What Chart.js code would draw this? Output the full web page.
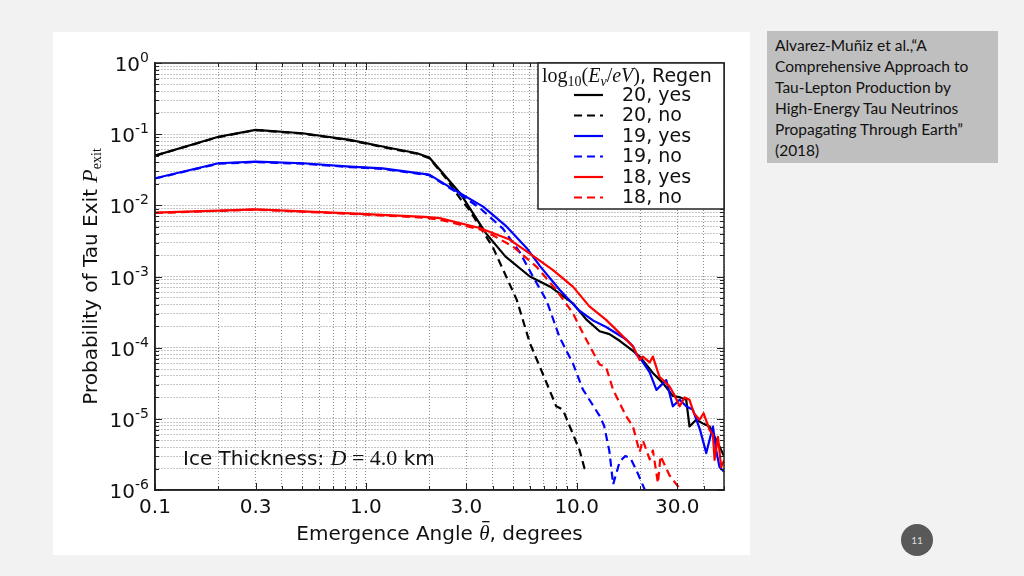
<!DOCTYPE html>
<html>
<head>
<meta charset="utf-8">
<script src="https://cdn.jsdelivr.net/npm/chart.js@4.4.0/dist/chart.umd.min.js"></script>
<style>
  html, body { margin: 0; padding: 0; }
  body { width: 1024px; height: 576px; background: #f2f2f2; position: relative; overflow: hidden; }
  #panel { position: absolute; left: 53px; top: 32px; width: 697px; height: 523px; background: #fff; }
  #cite { position: absolute; left: 767px; top: 31px; width: 231px; height: 132px; background: #bfbfbf;
          box-sizing: border-box; padding: 4px 0 0 8px; font-family: Lato, sans-serif; font-size: 15.5px;
          line-height: 21px; color: #111; }
  #pagenum { position: absolute; left: 901px; top: 524px; width: 32px; height: 32px; border-radius: 50%;
             background: #595959; color: #ddd; font: 10px Lato, sans-serif; text-align: center; line-height: 32px; }
</style>
</head>
<body>
<div id="panel"><canvas id="tauChart" width="697" height="523"></canvas></div>
<div id="cite">Alvarez-Muñiz et al.,“A<br>Comprehensive Approach to<br>Tau-Lepton Production by<br>High-Energy Tau Neutrinos<br>Propagating Through Earth”<br>(2018)</div>
<div id="pagenum">11</div>
<script>
// emergence angle (degrees) and exit probability
const ang20yes = [0.1, 0.2, 0.3, 0.5, 0.84, 1.2, 1.75, 2.0, 2.8, 3.7, 4.6, 6.0, 7.5, 9.6, 11.1, 12.85, 14.3, 16.0, 18.5, 19.9, 23.0, 25.6, 28.6, 31.0, 33.1, 34.3, 36.9, 40.0, 42.7, 45.1, 47.6, 50];
const p20yes = [0.050, 0.092, 0.115, 0.103, 0.083, 0.067, 0.054, 0.047, 0.0148, 0.0041, 0.0019, 1.0e-3, 7.2e-4, 4.2e-4, 2.5e-4, 1.7e-4, 1.55e-4, 1.25e-4, 9.0e-5, 7.5e-5, 4.4e-5, 3.2e-5, 2.1e-5, 2.0e-5, 1.85e-5, 7.8e-6, 9.7e-6, 8.5e-6, 7.8e-6, 5.6e-6, 4.1e-6, 3.0e-6];

const ang20no = [0.1, 0.2, 0.3, 0.5, 0.84, 1.2, 1.75, 2.0, 2.4, 2.8, 3.1, 4.0, 5.2, 6.0, 7.2, 8.0, 8.6, 10.3, 10.9, 11.3];
const p20no = [0.050, 0.091, 0.114, 0.102, 0.082, 0.066, 0.053, 0.046, 0.024, 0.0125, 0.0086, 0.0026, 4.7e-4, 1.16e-4, 3.2e-5, 1.5e-5, 1.35e-5, 3.7e-6, 2.0e-6, 1.9e-6];

const ang19yes = [0.1, 0.2, 0.3, 0.5, 0.84, 1.2, 2.0, 2.5, 2.8, 3.6, 4.6, 5.8, 6.7, 8.3, 10.3, 12.0, 13.8, 17.2, 18.5, 19.2, 20.3, 22.2, 23.9, 26.6, 28.6, 30.8, 33.1, 35.6, 38.5, 41.2, 44.3, 46.0, 47.6, 50];
const p19yes = [0.024, 0.039, 0.041, 0.039, 0.035, 0.033, 0.027, 0.018, 0.0148, 0.0096, 0.0052, 0.0025, 0.0014, 6.5e-4, 3.3e-4, 2.4e-4, 1.95e-4, 1.3e-4, 1.05e-4, 8.0e-5, 6.7e-5, 4.5e-5, 2.55e-5, 3.5e-5, 1.5e-5, 1.85e-5, 1.5e-5, 1.34e-5, 7.0e-6, 3.3e-6, 7.8e-6, 3.5e-6, 2.1e-6, 1.8e-6];

const ang19no = [0.1, 0.2, 0.3, 0.5, 0.84, 1.2, 2.0, 2.5, 2.8, 3.47, 4.47, 5.37, 6.2, 7.2, 8.3, 9.6, 10.7, 12.85, 13.5, 14.3, 14.9, 16.0, 17.0, 18.0, 19.2, 21.4];
const p19no = [0.0238, 0.0385, 0.0405, 0.0385, 0.0345, 0.0325, 0.0265, 0.0175, 0.0142, 0.0092, 0.0047, 0.0022, 1.0e-3, 4.6e-4, 1.4e-4, 6.0e-5, 2.6e-5, 1.1e-5, 8.0e-6, 3.5e-6, 1.2e-6, 2.5e-6, 3.0e-6, 2.8e-6, 1.9e-6, 9.0e-7];

const ang18yes = [0.1, 0.2, 0.3, 0.84, 1.9, 2.24, 3.47, 4.81, 6.0, 7.7, 9.6, 11.5, 13.8, 16.0, 18.5, 19.9, 20.6, 22.2, 23.0, 24.7, 26.0, 27.6, 29.0, 30.8, 32.5, 34.3, 36.0, 38.3, 40.0, 42.7, 44.3, 45.1, 46.8, 48.5, 50];
const p18yes = [0.0079, 0.0084, 0.0088, 0.0077, 0.0069, 0.0066, 0.0048, 0.0033, 0.0021, 0.00124, 7.2e-4, 3.8e-4, 2.46e-4, 1.6e-4, 1.04e-4, 6.7e-5, 7.5e-5, 6.2e-5, 7.5e-5, 3.9e-5, 3.4e-5, 2.84e-5, 2.2e-5, 1.5e-5, 2.0e-5, 1.85e-5, 1.2e-5, 9.7e-6, 1.2e-5, 7.0e-6, 6.0e-6, 2.65e-6, 5.6e-6, 2.1e-6, 2.6e-6];

const ang18no = [0.1, 0.3, 0.84, 1.9, 2.24, 3.0, 3.47, 4.0, 4.99, 6.44, 8.0, 9.6, 10.7, 12.85, 13.8, 14.9, 17.2, 18.5, 19.9, 20.6, 22.2, 23.0, 24.3, 25.0, 27.6, 30.8, 32.5];
const p18no = [0.0078, 0.0087, 0.0076, 0.0067, 0.0063, 0.0051, 0.0046, 0.0038, 0.00263, 0.00138, 6.5e-4, 3.05e-4, 1.6e-4, 5.8e-5, 5.3e-5, 2.55e-5, 1.08e-5, 7.8e-6, 3.4e-6, 5.0e-6, 2.7e-6, 3.6e-6, 1.25e-6, 3.0e-6, 1.6e-6, 1.05e-6, 8.0e-7];

const seriesLabels = ['20, yes', '20, no', '19, yes', '19, no', '18, yes', '18, no'];

// axis ticks
const xLabelVals = [0.1, 0.3, 1, 3, 10, 30];
const xLabelText = ['0.1', '0.3', '1.0', '3.0', '10.0', '30.0'];
const xTickVals = [0.1, 0.2, 0.3, 0.4, 0.5, 0.6, 0.7, 0.8, 0.9, 1, 2, 3, 4, 5, 6, 7, 8, 9, 10, 20, 30, 40, 50];
const yExponents = [-6, -5, -4, -3, -2, -1, 0];

const sameVal = (a, b) => Math.abs(Math.log10(a) - Math.log10(b)) < 1e-6;
const isDecade = v => sameVal(v, Math.pow(10, Math.round(Math.log10(v))));

const yTickVals = [];
yExponents.forEach(e => {
    const m = e === 0 ? [1] : [1, 2, 3, 4, 5, 6, 7, 8, 9];
    m.forEach(k => yTickVals.push(k * Math.pow(10, e)));
});

const toPts = (xs, ys) => xs.map((v, i) => ({x: v, y: ys[i]}));

function lineSet(label, xs, ys, color, dashed, order) {
    return {
        label: label,
        data: toPts(xs, ys),
        borderColor: color,
        borderWidth: 2.2,
        borderDash: dashed ? [8, 5] : [],
        borderCapStyle: 'butt',
        borderJoinStyle: 'round',
        pointRadius: 0,
        tension: 0,
        fill: false,
        clip: 0,
        order: order
    };
}

const MATH = '"Liberation Serif", serif';
const SANS = '"DejaVu Sans", sans-serif';

function drawRuns(ctx, runs, x, y, align) {
    let total = 0;
    runs.forEach(r => { ctx.font = r.font; r.w = ctx.measureText(r.t).width; total += r.w; });
    let cx = align === 'center' ? x - total / 2 : align === 'right' ? x - total : x;
    runs.forEach(r => {
        ctx.font = r.font;
        ctx.fillText(r.t, cx, y + (r.dy || 0));
        r.x = cx;
        cx += r.w;
    });
    return runs;
}

const decorPlugin = {
    id: 'decor',
    afterDatasetsDraw(chart) {
        const {ctx, chartArea: a, scales: {x, y}} = chart;
        ctx.save();
        // inward ticks on all sides
        ctx.strokeStyle = '#222';
        ctx.lineWidth = 1;
        ctx.beginPath();
        x.ticks.forEach(t => {
            const px = Math.round(x.getPixelForValue(t.value)) + 0.5;
            const len = xLabelVals.some(v => sameVal(v, t.value)) ? 7 : 4;
            ctx.moveTo(px, a.bottom); ctx.lineTo(px, a.bottom - len);
            ctx.moveTo(px, a.top); ctx.lineTo(px, a.top + len);
        });
        y.ticks.forEach(t => {
            const py = Math.round(y.getPixelForValue(t.value)) + 0.5;
            const len = isDecade(t.value) ? 7 : 4;
            ctx.moveTo(a.left, py); ctx.lineTo(a.left + len, py);
            ctx.moveTo(a.right, py); ctx.lineTo(a.right - len, py);
        });
        ctx.stroke();
        ctx.lineWidth = 1.5;
        ctx.strokeRect(a.left, a.top, a.right - a.left, a.bottom - a.top);

        ctx.fillStyle = '#111';
        ctx.textBaseline = 'alphabetic';

        // y tick labels: 10 with a raised exponent
        y.ticks.forEach(t => {
            if (!isDecade(t.value)) return;
            const py = y.getPixelForValue(t.value);
            const e = String(Math.round(Math.log10(t.value)));
            drawRuns(ctx, [
                {t: '10', font: '20px ' + SANS},
                {t: e, font: '14px ' + SANS, dy: -9}
            ], a.left - 6, py + 8, 'right');
        });

        // x title
        const xr = drawRuns(ctx, [
            {t: 'Emergence Angle ', font: '20px ' + SANS},
            {t: '\u03B8', font: 'italic 21px ' + MATH},
            {t: ', degrees', font: '20px ' + SANS}
        ], (a.left + a.right) / 2, 508, 'center');
        ctx.fillRect(xr[1].x + 3, 508 - 19, xr[1].w - 3, 1.3);

        // y title
        ctx.save();
        ctx.translate(44, (a.top + a.bottom) / 2);
        ctx.rotate(-Math.PI / 2);
        drawRuns(ctx, [
            {t: 'Probability of Tau Exit ', font: '20px ' + SANS},
            {t: 'P', font: 'italic 22px ' + MATH},
            {t: 'exit', font: '14px ' + MATH, dy: 4}
        ], 0, 0, 'center');
        ctx.restore();

        // annotation
        drawRuns(ctx, [
            {t: 'Ice Thickness: ', font: '20px ' + SANS},
            {t: 'D', font: 'italic 22px ' + MATH},
            {t: ' = ', font: '22px ' + MATH},
            {t: '4.0', font: '22px ' + MATH},
            {t: ' km', font: '20px ' + SANS}
        ], 130, 433, 'left');

        // legend box
        const lx = a.right - 186, ly = a.top, lw = 186, lh = 146;
        ctx.fillStyle = '#fff';
        ctx.fillRect(lx, ly, lw, lh);
        ctx.strokeStyle = '#222';
        ctx.lineWidth = 1.5;
        ctx.strokeRect(lx, ly, lw, lh);
        ctx.fillStyle = '#111';
        drawRuns(ctx, [
            {t: 'log', font: '20px ' + MATH},
            {t: '10', font: '14px ' + MATH, dy: 4},
            {t: '(', font: '20px ' + MATH},
            {t: 'E', font: 'italic 20px ' + MATH},
            {t: '\u03BD', font: 'italic 14px ' + MATH, dy: 4},
            {t: '/', font: '20px ' + MATH},
            {t: 'eV', font: 'italic 20px ' + MATH},
            {t: ')', font: '20px ' + MATH},
            {t: ', Regen', font: '19px ' + SANS}
        ], lx + 4, ly + 19, 'left');
        chart.data.datasets.forEach((ds, i) => {
            const cy = ly + 32 + i * 20.5;
            ctx.strokeStyle = ds.borderColor;
            ctx.lineWidth = 2.2;
            ctx.setLineDash(ds.borderDash);
            ctx.beginPath();
            ctx.moveTo(lx + 36, cy); ctx.lineTo(lx + 65, cy);
            ctx.stroke();
            ctx.setLineDash([]);
            ctx.font = '19px ' + SANS;
            ctx.textBaseline = 'middle';
            ctx.fillText(ds.label, lx + 84, cy + 1);
            ctx.textBaseline = 'alphabetic';
        });
        ctx.restore();
    }
};

const gridOpts = {color: '#8c8c8c', lineWidth: 1, drawTicks: false, borderDash: [1, 2]};
const borderOpts = {display: true, color: '#222', width: 1.5, dash: [1, 2]};

new Chart(document.getElementById('tauChart').getContext('2d'), {
    type: 'line',
    data: {
        datasets: [
            lineSet(seriesLabels[0], ang20yes, p20yes, '#000000', false, 5),
            lineSet(seriesLabels[1], ang20no, p20no, '#000000', true, 4),
            lineSet(seriesLabels[2], ang19yes, p19yes, '#0000ff', false, 3),
            lineSet(seriesLabels[3], ang19no, p19no, '#0000ff', true, 2),
            lineSet(seriesLabels[4], ang18yes, p18yes, '#ff0000', false, 1),
            lineSet(seriesLabels[5], ang18no, p18no, '#ff0000', true, 0)
        ]
    },
    options: {
        responsive: false,
        animation: false,
        devicePixelRatio: 1,
        layout: {padding: {left: 0, top: 31, right: 26, bottom: 0}},
        plugins: {legend: {display: false}, tooltip: {enabled: false}},
        scales: {
            x: {
                type: 'logarithmic',
                min: 0.1,
                max: 50,
                grid: gridOpts,
                border: borderOpts,
                afterBuildTicks: s => { s.ticks = xTickVals.map(v => ({value: v})); },
                afterFit: s => { s.height = 65; },
                ticks: {
                    autoSkip: false,
                    maxRotation: 0,
                    padding: 6,
                    color: '#111',
                    font: {family: 'DejaVu Sans', size: 20},
                    callback: v => {
                        const i = xLabelVals.findIndex(l => sameVal(l, v));
                        return i >= 0 ? xLabelText[i] : '';
                    }
                }
            },
            y: {
                type: 'logarithmic',
                min: 1e-6,
                max: 1,
                grid: gridOpts,
                border: borderOpts,
                afterBuildTicks: s => { s.ticks = yTickVals.map(v => ({value: v})); },
                afterFit: s => { s.width = 102; },
                ticks: {display: false}
            }
        }
    },
    plugins: [decorPlugin]
});
</script>
</body>
</html>
